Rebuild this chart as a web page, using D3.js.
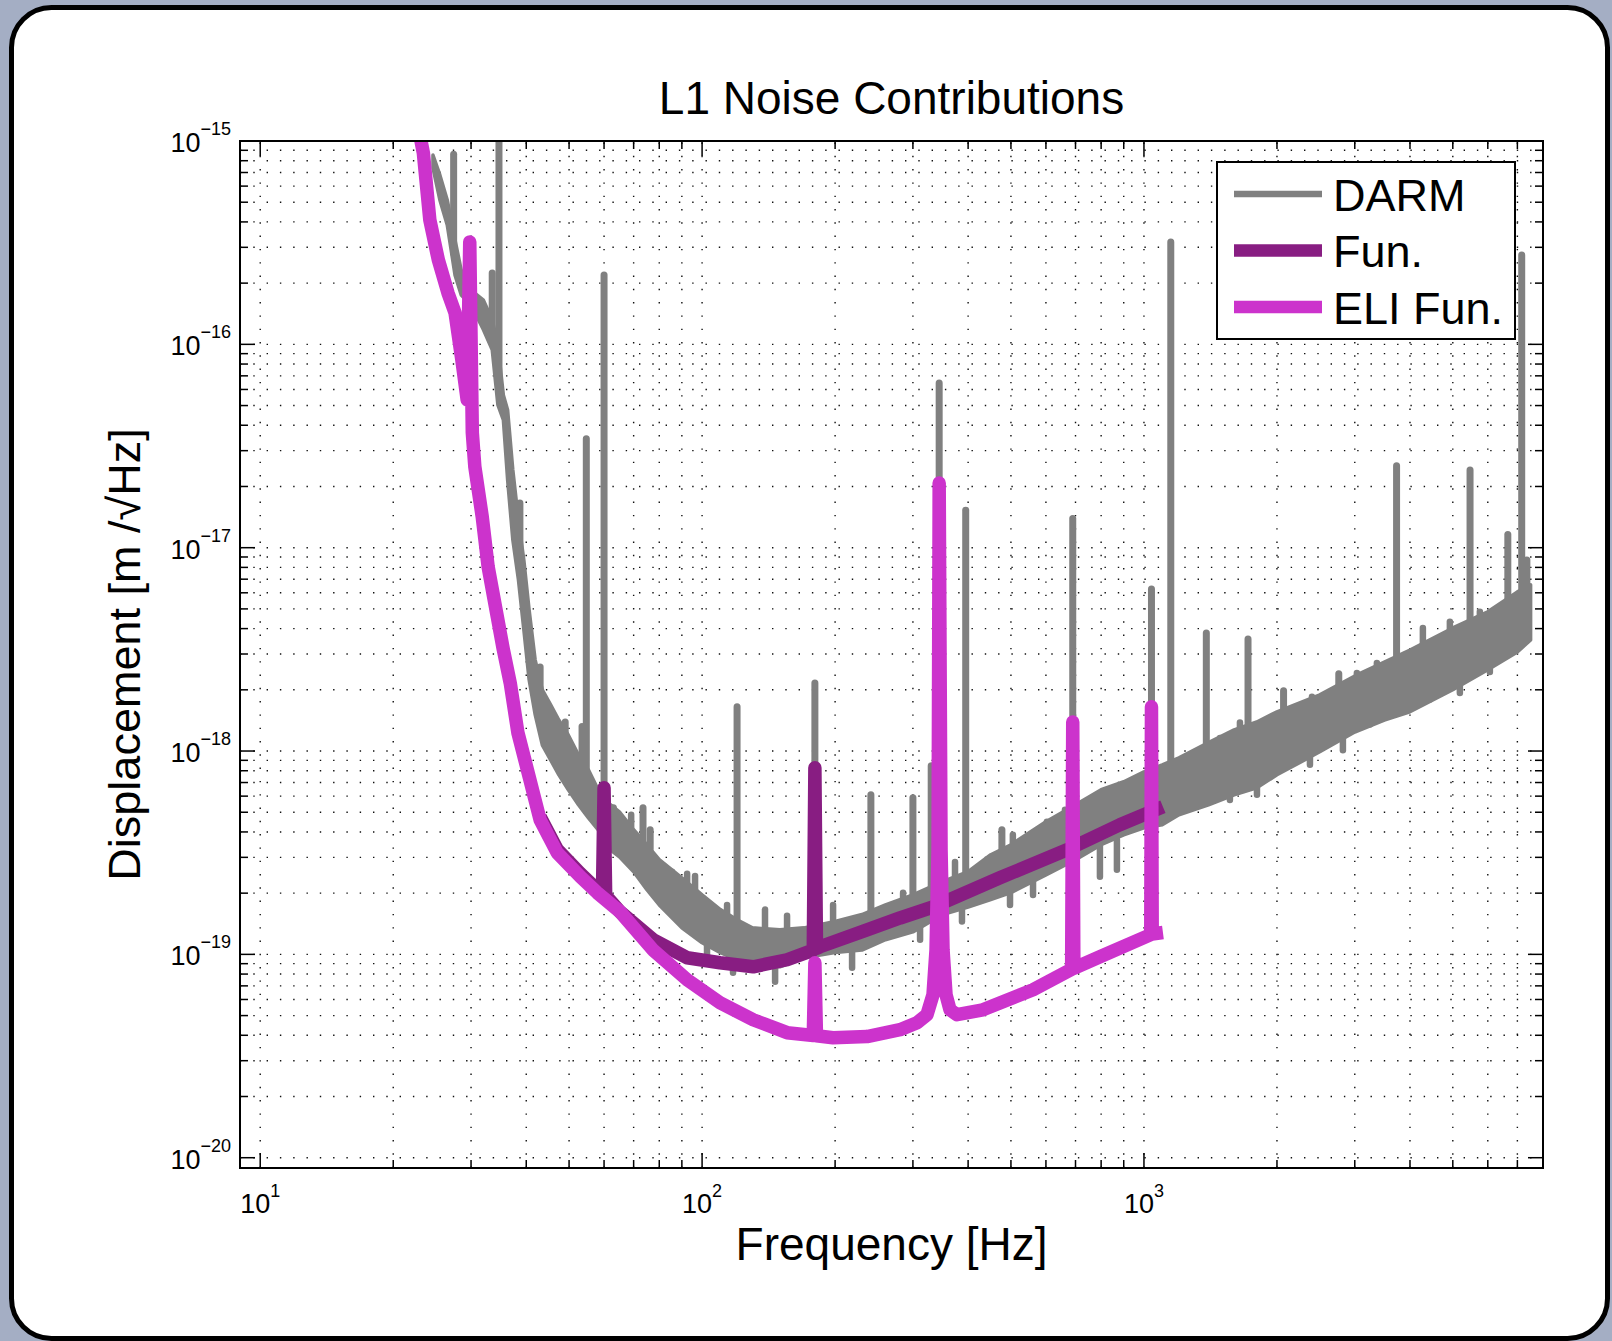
<!DOCTYPE html>
<html>
<head>
<meta charset="utf-8">
<script src="https://cdn.jsdelivr.net/npm/d3@7"></script>
<style>
  html, body { margin: 0; padding: 0; background: #a4aec4; }
  svg { display: block; }
  text { font-family: "Liberation Sans", Arial, Helvetica, sans-serif; fill: #000; }
</style>
</head>
<body>
<div id="main"></div>
<script>
const ctx = {
    w: 1612,
    h: 1341,
    left: 240,
    right: 1543,
    top: 141,
    bottom: 1168
};

// DARM: the noisy trace is kept as an upper / lower edge at each frequency
const darmFreq = [24.6, 25.5, 26.5, 27.6, 28.5, 30, 32, 33.5, 34.5, 35.5, 36.3, 37.3, 38.4, 39.5, 40.6, 41.9, 43.5, 45.4, 47.4, 49.8, 52.5, 55.3, 58.2, 60, 65, 70, 75, 80, 90, 100, 110, 120, 130, 150, 170, 200, 230, 260, 300, 350, 400, 450, 500, 600, 700, 800, 900, 1000, 1100, 1200, 1400, 1600, 1800, 2000, 2500, 3000, 3500, 4000, 5000, 6000, 7000, 7500];
const darmHigh = [8.53e-16, 6.81e-16, 5.13e-16, 3.26e-16, 2.32e-16, 1.85e-16, 1.65e-16, 1.32e-16, 9.93e-17, 5.64e-17, 4.76e-17, 2.41e-17, 1.37e-17, 8.71e-18, 4.95e-18, 2.81e-18, 2.00e-18, 1.69e-18, 1.42e-18, 1.20e-18, 9.58e-19, 8.08e-19, 6.45e-19, 5.76e-19, 5.02e-19, 4.10e-19, 3.46e-19, 2.92e-19, 2.38e-19, 1.96e-19, 1.66e-19, 1.48e-19, 1.35e-19, 1.32e-19, 1.35e-19, 1.45e-19, 1.57e-19, 1.75e-19, 1.96e-19, 2.28e-19, 2.55e-19, 3.09e-19, 3.46e-19, 4.49e-19, 5.44e-19, 6.45e-19, 7.06e-19, 7.90e-19, 8.55e-19, 9.26e-19, 1.10e-18, 1.27e-18, 1.39e-18, 1.56e-18, 1.89e-18, 2.34e-18, 2.74e-18, 3.14e-18, 4.03e-18, 4.84e-18, 6.06e-18, 6.56e-18];
const darmLow = [7.37e-16, 5.13e-16, 3.86e-16, 2.19e-16, 1.75e-16, 1.56e-16, 1.18e-16, 9.39e-17, 5.04e-17, 4.25e-17, 2.15e-17, 1.09e-17, 6.95e-18, 3.94e-18, 2.24e-18, 1.51e-18, 1.07e-18, 9.05e-19, 7.64e-19, 6.45e-19, 5.44e-19, 4.69e-19, 4.10e-19, 3.46e-19, 3.02e-19, 2.55e-19, 2.08e-19, 1.75e-19, 1.35e-19, 1.14e-19, 1.02e-19, 9.41e-20, 8.79e-20, 8.69e-20, 9.62e-20, 1.02e-19, 1.05e-19, 1.18e-19, 1.29e-19, 1.57e-19, 1.71e-19, 1.86e-19, 2.01e-19, 2.46e-19, 2.92e-19, 3.46e-19, 3.87e-19, 4.19e-19, 4.34e-19, 4.86e-19, 5.44e-19, 6.09e-19, 6.59e-19, 7.64e-19, 9.91e-19, 1.24e-18, 1.42e-18, 1.56e-18, 2.00e-18, 2.51e-18, 3.07e-18, 3.52e-18];

// DARM lines (spikes): frequency, peak value, value at the foot
const lineFreq = [27.4, 33.5, 34.7, 38.7, 43.0, 44.8, 49.0, 53.5, 54.7, 60, 63, 73.5, 76.3, 120, 180, 241, 300, 330, 344, 395, 477, 690, 1040, 1150, 1384, 1720, 2070, 2760, 3730, 5470, 6660, 7160, 7355];
const lineTop = [8.6e-16, 2.24e-16, 1.5e-15, 1.66e-17, 2.59e-18, 1.51e-18, 1.39e-18, 1.32e-18, 3.43e-17, 2.19e-16, 5.26e-19, 5.26e-19, 4.10e-19, 1.65e-18, 2.16e-18, 6.09e-19, 5.89e-19, 8.46e-19, 6.46e-17, 1.53e-17, 4.1e-19, 1.39e-17, 6.27e-18, 3.19e-16, 3.81e-18, 3.56e-18, 1.98e-18, 2.40e-18, 2.53e-17, 2.41e-17, 1.16e-17, 2.75e-16, 8.7e-18];
const lineBase = [2.8e-16, 1.1e-16, 7e-17, 8e-18, 1.6e-18, 1.2e-18, 1.0e-18, 8.5e-19, 7.5e-19, 5.8e-19, 4.8e-19, 3.6e-19, 3.3e-19, 1.45e-19, 1.35e-19, 1.6e-19, 1.9e-19, 2.1e-19, 2.2e-19, 2.5e-19, 3.2e-19, 5.3e-19, 8.0e-19, 8.8e-19, 1.08e-18, 1.33e-18, 1.6e-18, 2.1e-18, 2.9e-18, 4.4e-18, 5.4e-18, 6.0e-18, 6.3e-18];

// DARM ripple on the band edges: frequency, tip value, value inside the band
const rippleFreq = [69.1, 85.5, 92.5, 96.4, 113.9, 138.8, 155.7, 197.9, 285, 373.6, 505, 603, 662.6, 837.8, 1486, 1649, 2400, 3033, 3366, 4278, 4924, 5757,
                    102.6, 117.5, 146.3, 218.5, 311.4, 387.4, 497.6, 561, 795, 868.6, 1565, 1802, 2375, 2820, 3246, 4437, 5187, 6065];
const rippleTip = [4.86e-19, 2.55e-19, 2.49e-19, 2.43e-19, 1.75e-19, 1.66e-19, 1.55e-19, 1.75e-19, 2.01e-19, 2.85e-19, 3.87e-19, 4.49e-19, 5.14e-19, 6.02e-19, 1.16e-18, 1.38e-18, 1.85e-18, 2.42e-18, 2.71e-18, 4.03e-18, 4.32e-18, 4.84e-18,
                   9.20e-20, 8.12e-20, 7.33e-20, 8.59e-20, 1.18e-19, 1.45e-19, 1.75e-19, 1.96e-19, 2.41e-19, 2.61e-19, 5.75e-19, 6.09e-19, 8.55e-19, 1.01e-18, 1.35e-18, 1.79e-18, 1.93e-18, 2.45e-18];
const rippleBase = [3.34e-19, 1.86e-19, 1.66e-19, 1.62e-19, 1.21e-19, 1.11e-19, 1.11e-19, 1.22e-19, 1.48e-19, 2.03e-19, 2.76e-19, 3.27e-19, 3.66e-19, 4.34e-19, 8.08e-19, 9.05e-19, 1.27e-18, 1.69e-18, 1.89e-18, 2.65e-18, 2.97e-18, 3.33e-18,
                    1.32e-19, 1.18e-19, 1.05e-19, 1.25e-19, 1.57e-19, 1.96e-19, 2.46e-19, 2.76e-19, 3.46e-19, 3.66e-19, 8.55e-19, 9.05e-19, 1.27e-18, 1.51e-18, 2.00e-18, 2.65e-18, 2.81e-18, 3.52e-18];

// Fun.
const funFreq = [43.0, 47.0, 53.0, 57.9, 59.5, 60, 60.5, 65.2, 77.5, 92.5, 109.8, 130.5, 155.7, 178.5, 180, 181.5, 184.9, 236.2, 280.5, 333, 472, 670, 882, 1104];
const funVal = [4.75e-19, 3.28e-19, 2.5e-19, 2.08e-19, 1.98e-19, 6.59e-19, 1.95e-19, 1.62e-19, 1.18e-19, 9.62e-20, 9.09e-20, 8.69e-20, 9.41e-20, 1.05e-19, 8.27e-19, 1.07e-19, 1.09e-19, 1.32e-19, 1.51e-19, 1.71e-19, 2.38e-19, 3.27e-19, 4.34e-19, 5.32e-19];

// ELI Fun.
const eliFreq = [22.4, 23.4, 24.2, 25.3, 26.6, 27.6, 28.6, 29.4, 29.8, 30.2, 30.6, 31.8, 32.8, 34.4, 35.5, 36.8, 38.3, 40.4, 43.0, 47.0, 53.0, 57.9, 65.2, 77.5, 92.5, 109.8, 130.5, 155.7, 178.5, 180, 181.5, 197.9, 236.2, 280.5, 306.5, 322.8, 333.1, 338.4, 342, 344, 347.4, 351, 356.5, 364, 377.5, 432, 561, 686, 690, 694, 795, 1036, 1040, 1044, 1104];
const eliVal = [1.42e-15, 8.73e-16, 4.09e-16, 2.60e-16, 1.79e-16, 1.43e-16, 8.38e-17, 5.33e-17, 3.19e-16, 3.67e-17, 2.50e-17, 1.42e-17, 8.04e-18, 4.57e-18, 3.15e-18, 2.16e-18, 1.23e-18, 7.81e-19, 4.59e-19, 3.16e-19, 2.41e-19, 2.01e-19, 1.62e-19, 1.05e-19, 7.50e-20, 5.78e-20, 4.77e-20, 4.12e-20, 3.99e-20, 9.09e-20, 3.98e-20, 3.89e-20, 3.94e-20, 4.26e-20, 4.61e-20, 5.05e-20, 6.33e-20, 1.05e-19, 3.27e-19, 2.08e-17, 3.27e-19, 1.05e-19, 6.33e-20, 5.34e-20, 5.05e-20, 5.34e-20, 6.70e-20, 8.45e-20, 1.39e-18, 8.55e-20, 9.73e-20, 1.25e-19, 1.65e-18, 1.26e-19, 1.28e-19];

const xTicks = [10, 100, 1000];
const xTickExp = ["1", "2", "3"];
const yTicks = [1e-20, 1e-19, 1e-18, 1e-17, 1e-16, 1e-15];
const yTickExp = ["\u221220", "\u221219", "\u221218", "\u221217", "\u221216", "\u221215"];

const seriesNames = ["DARM", "Fun.", "ELI Fun."];
const seriesColors = ["#808080", "#881d82", "#cc33cc"];

function spikes(g, freq, tip, base, x, y, width) {
    g.selectAll(null).data(d3.range(freq.length)).enter().append("line")
        .attr("x1", i => x(freq[i])).attr("x2", i => x(freq[i]))
        .attr("y1", i => y(base[i])).attr("y2", i => y(tip[i]))
        .attr("stroke", seriesColors[0])
        .attr("stroke-width", width)
        .attr("stroke-linecap", "round");
}

function createViz() {
    let svg = d3.select("#main").append("svg")
        .attr("width", ctx.w)
        .attr("height", ctx.h);

    // window frame
    svg.append("rect").attr("width", ctx.w).attr("height", ctx.h).attr("fill", "#a4aec4");
    svg.append("rect")
        .attr("x", 11.5).attr("y", 7.5)
        .attr("width", 1596).attr("height", 1331)
        .attr("rx", 40).attr("ry", 40)
        .attr("fill", "#fff")
        .attr("stroke", "#000")
        .attr("stroke-width", 5);

    let x = d3.scaleLog().domain([9, 8000]).range([ctx.left, ctx.right]);
    let y = d3.scaleLog().domain([8.9e-21, 1e-15]).range([ctx.bottom, ctx.top]);

    // grid values (major + minor of each decade)
    let xGrid = [];
    [10, 100, 1000].forEach(d => { for (let m = 1; m <= 9; m++) { if (m * d < 7990) xGrid.push(m * d); } });
    let yGrid = [];
    [-21, -20, -19, -18, -17, -16, -15].forEach(e => {
        for (let m = 1; m <= 9; m++) {
            let v = m * Math.pow(10, e);
            if (v > 9.2e-21 && v <= 1.0001e-15) yGrid.push(v);
        }
    });

    let gridG = svg.append("g").attr("id", "gridG")
        .attr("stroke", "#111")
        .attr("stroke-width", 1.4)
        .attr("stroke-dasharray", "1.4,11.9");
    gridG.selectAll("line.xg").data(xGrid).enter().append("line")
        .attr("x1", d => x(d)).attr("x2", d => x(d))
        .attr("y1", ctx.bottom).attr("y2", ctx.top);
    gridG.selectAll("line.yg").data(yGrid).enter().append("line")
        .attr("y1", d => y(d)).attr("y2", d => y(d))
        .attr("x1", ctx.left).attr("x2", ctx.right);

    // data
    svg.append("clipPath").attr("id", "plotClip")
        .append("rect")
        .attr("x", ctx.left).attr("y", ctx.top)
        .attr("width", ctx.right - ctx.left).attr("height", ctx.bottom - ctx.top);
    let dataG = svg.append("g").attr("clip-path", "url(#plotClip)");

    let darmArea = d3.area()
        .x(i => x(darmFreq[i]))
        .y0(i => y(darmLow[i]))
        .y1(i => y(darmHigh[i]));
    dataG.append("path")
        .datum(d3.range(darmFreq.length))
        .attr("d", darmArea)
        .attr("fill", seriesColors[0])
        .attr("stroke", seriesColors[0])
        .attr("stroke-width", 3.5)
        .attr("stroke-linejoin", "round");
    spikes(dataG, rippleFreq, rippleTip, rippleBase, x, y, 6.5);
    spikes(dataG, lineFreq, lineTop, lineBase, x, y, 7);

    let funLine = d3.line().x(i => x(funFreq[i])).y(i => y(funVal[i]));
    dataG.append("path")
        .datum(d3.range(funFreq.length))
        .attr("d", funLine)
        .attr("fill", "none")
        .attr("stroke", seriesColors[1])
        .attr("stroke-width", 13.5)
        .attr("stroke-linejoin", "round");

    let eliLine = d3.line().x(i => x(eliFreq[i])).y(i => y(eliVal[i]));
    dataG.append("path")
        .datum(d3.range(eliFreq.length))
        .attr("d", eliLine)
        .attr("fill", "none")
        .attr("stroke", seriesColors[2])
        .attr("stroke-width", 13.5)
        .attr("stroke-linejoin", "round");

    // axes box and ticks on four sides
    let axG = svg.append("g").attr("stroke", "#000").attr("stroke-width", 1.5);
    xGrid.forEach(v => {
        let len = xTicks.includes(v) ? 15 : 8;
        axG.append("line").attr("x1", x(v)).attr("x2", x(v)).attr("y1", ctx.bottom).attr("y2", ctx.bottom - len);
        axG.append("line").attr("x1", x(v)).attr("x2", x(v)).attr("y1", ctx.top).attr("y2", ctx.top + len);
    });
    yGrid.forEach(v => {
        let major = yTicks.some(t => Math.abs(t - v) / t < 1e-6);
        let len = major ? 15 : 8;
        axG.append("line").attr("y1", y(v)).attr("y2", y(v)).attr("x1", ctx.left).attr("x2", ctx.left + len);
        axG.append("line").attr("y1", y(v)).attr("y2", y(v)).attr("x1", ctx.right).attr("x2", ctx.right - len);
    });
    svg.append("rect")
        .attr("x", ctx.left).attr("y", ctx.top)
        .attr("width", ctx.right - ctx.left).attr("height", ctx.bottom - ctx.top)
        .attr("fill", "none").attr("stroke", "#000").attr("stroke-width", 2);

    // tick labels
    xTicks.forEach((t, i) => {
        let txt = svg.append("text")
            .attr("x", x(t)).attr("y", ctx.bottom + 45)
            .attr("text-anchor", "middle");
        txt.append("tspan").attr("font-size", 27).text("10");
        txt.append("tspan").attr("font-size", 18).attr("dy", -16).text(xTickExp[i]);
    });
    yTicks.forEach((t, i) => {
        let txt = svg.append("text")
            .attr("x", ctx.left - 9).attr("y", y(t) + 11)
            .attr("text-anchor", "end");
        txt.append("tspan").attr("font-size", 27).text("10");
        txt.append("tspan").attr("font-size", 18).attr("dy", -17).text(yTickExp[i]);
    });

    // title and axis labels
    let midX = (ctx.left + ctx.right) / 2;
    let midY = (ctx.top + ctx.bottom) / 2;
    svg.append("text")
        .attr("x", midX).attr("y", 114)
        .attr("text-anchor", "middle")
        .attr("font-size", 46)
        .text("L1 Noise Contributions");
    svg.append("text")
        .attr("x", midX).attr("y", 1260)
        .attr("text-anchor", "middle")
        .attr("font-size", 46)
        .text("Frequency [Hz]");
    svg.append("text")
        .attr("transform", `translate(140,${midY}) rotate(-90)`)
        .attr("text-anchor", "middle")
        .attr("font-size", 45)
        .text("Displacement [m /\u221AHz]");

    // legend
    let lg = svg.append("g").attr("id", "legendG");
    lg.append("rect")
        .attr("x", 1217).attr("y", 162)
        .attr("width", 298).attr("height", 177)
        .attr("fill", "#fff").attr("stroke", "#000").attr("stroke-width", 2);
    let lw = [6.5, 12.5, 12.5];
    seriesNames.forEach((name, i) => {
        let ly = 194 + i * 56.5;
        lg.append("line")
            .attr("x1", 1234).attr("x2", 1322)
            .attr("y1", ly).attr("y2", ly)
            .attr("stroke", seriesColors[i])
            .attr("stroke-width", lw[i]);
        lg.append("text")
            .attr("x", 1333).attr("y", ly + 16.5)
            .attr("font-size", 45)
            .text(name);
    });
}

createViz();
</script>
</body>
</html>
